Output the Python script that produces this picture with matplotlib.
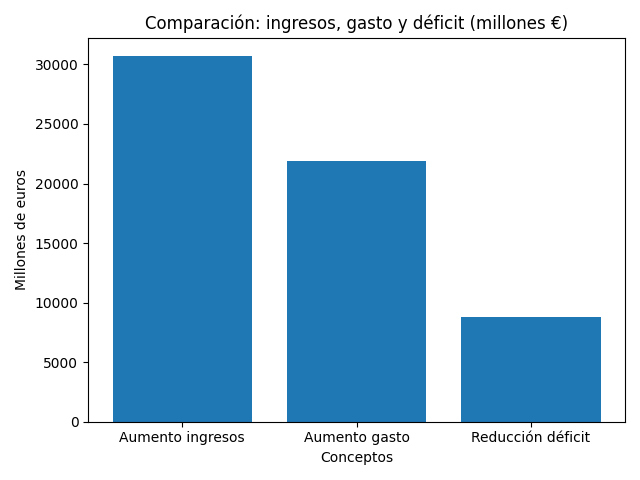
import matplotlib
matplotlib.use("Agg")
import matplotlib.pyplot as plt

categories = ["Aumento ingresos", "Aumento gasto", "Reducción déficit"]
values = [30700, 21870, 8800]

fig, ax = plt.subplots(figsize=(6.4, 4.8), dpi=100)
ax.bar(categories, values, color="#1f77b4")
ax.set_title("Comparación: ingresos, gasto y déficit (millones €)")
ax.set_xlabel("Conceptos")
ax.set_ylabel("Millones de euros")
fig.tight_layout()
fig.savefig("out.png")
